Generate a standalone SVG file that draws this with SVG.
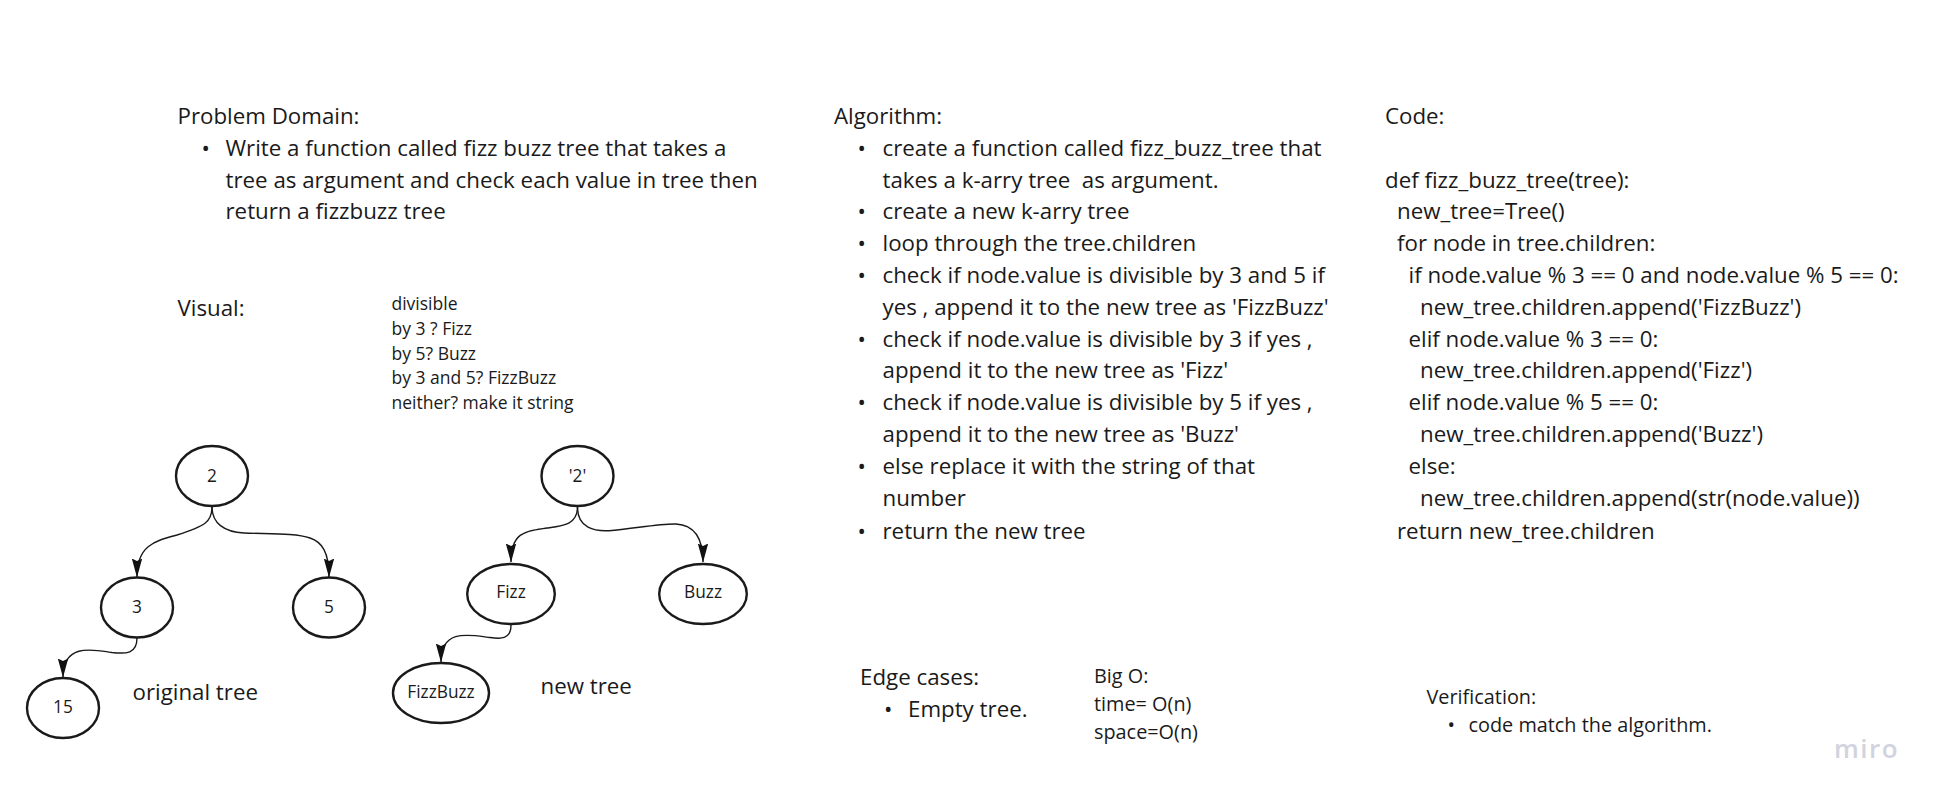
<svg xmlns="http://www.w3.org/2000/svg" width="1941" height="804" viewBox="0 0 1941 804">
<style>
text{font-family:"Open Sans","Noto Sans",sans-serif;fill:#1a1a1a;white-space:pre}
.b{font-size:22.3px}
.s{font-size:19.85px}
.d{font-size:17.5px}
.n{font-size:17.3px;text-anchor:middle}
.node{fill:#fff;stroke:#1a1a1a;stroke-width:2.4}
.edge{fill:none;stroke:#1a1a1a;stroke-width:1.4;marker-end:url(#arrow)}
</style>
<defs>
<marker id="arrow" markerUnits="userSpaceOnUse" markerWidth="24" markerHeight="24" refX="18.5" refY="6" orient="auto">
<path d="M0 0.8L19 6L0 11.2L2.5 6Z" fill="#111"/>
</marker>
</defs>
<rect width="1941" height="804" fill="#fff"/>
<g id="problem-domain" class="b">
<text x="177.5" y="123.5">Problem Domain:</text>
<text x="201.5" y="155.5">•</text>
<text x="225.5" y="155.5">Write a function called fizz buzz tree that takes a</text>
<text x="225.5" y="187.5">tree as argument and check each value in tree then</text>
<text x="225.5" y="219">return a fizzbuzz tree</text>
</g>
<g id="visual" class="b"><text x="177.5" y="315.5">Visual:</text></g>
<g id="rules" class="d">
<text x="391.5" y="310">divisible</text>
<text x="391.5" y="334.5">by 3 ? Fizz</text>
<text x="391.5" y="359.5">by 5? Buzz</text>
<text x="391.5" y="384">by 3 and 5? FizzBuzz</text>
<text x="391.5" y="408.5">neither? make it string</text>
</g>
<g id="connectors">
<path class="edge" d="M212 507C212 522 205 526 177 535C155 541 137 545 137 577"/>
<path class="edge" d="M212 507C212 523 224 532 244 533C270 534 296 533 310 538C322 542 329 552 329 577"/>
<path class="edge" d="M137 638C137 654 126 654 112 652.500C95 650 63 642 63 677"/>
<path class="edge" d="M577.5 507C577.5 525 562 526 547 528C527 531 511 531 511 562"/>
<path class="edge" d="M577.5 507C577.5 528 594 532 612 530.500C635 528.500 660 523.500 676 524C695 525 703 538 703 562"/>
<path class="edge" d="M511 625C511 640 500 639 490 637.500C470 635 441 628 441 662"/>
</g>
<g id="node-2"><ellipse class="node" cx="212" cy="476" rx="36" ry="30"/><text class="n" x="212" y="481.5">2</text></g>
<g id="node-3"><ellipse class="node" cx="137" cy="607.5" rx="36" ry="30"/><text class="n" x="137" y="612.5">3</text></g>
<g id="node-5"><ellipse class="node" cx="329" cy="607.5" rx="36" ry="30"/><text class="n" x="329" y="612.5">5</text></g>
<g id="node-15"><ellipse class="node" cx="63" cy="708" rx="36" ry="30"/><text class="n" x="63" y="712.5">15</text></g>
<g id="node-str2"><ellipse class="node" cx="577.5" cy="476" rx="36" ry="30"/><text class="n" x="577.5" y="481.5">'2'</text></g>
<g id="node-fizz"><ellipse class="node" cx="511" cy="594" rx="43.800" ry="30"/><text class="n" x="511" y="598">Fizz</text></g>
<g id="node-buzz"><ellipse class="node" cx="703" cy="594" rx="43.800" ry="30"/><text class="n" x="703" y="598">Buzz</text></g>
<g id="node-fizzbuzz"><ellipse class="node" cx="441" cy="693" rx="48" ry="30"/><text class="n" x="441" y="698">FizzBuzz</text></g>
<g id="tree-labels" class="b">
<text x="132.5" y="700">original tree</text>
<text x="540.5" y="694">new tree</text>
</g>
<g id="algorithm" class="b">
<text x="834" y="123.5">Algorithm:</text>
<text x="857.5" y="155.5">•</text><text x="882.5" y="155.5">create a function called fizz_buzz_tree that</text>
<text x="882.5" y="187.5">takes a k-arry tree  as argument.</text>
<text x="857.5" y="219">•</text><text x="882.5" y="219">create a new k-arry tree</text>
<text x="857.5" y="250.5">•</text><text x="882.5" y="250.5">loop through the tree.children</text>
<text x="857.5" y="282.5">•</text><text x="882.5" y="282.5">check if node.value is divisible by 3 and 5 if</text>
<text x="882.5" y="314.5">yes , append it to the new tree as 'FizzBuzz'</text>
<text x="857.5" y="346.5">•</text><text x="882.5" y="346.5">check if node.value is divisible by 3 if yes ,</text>
<text x="882.5" y="378">append it to the new tree as 'Fizz'</text>
<text x="857.5" y="410">•</text><text x="882.5" y="410">check if node.value is divisible by 5 if yes ,</text>
<text x="882.5" y="442">append it to the new tree as 'Buzz'</text>
<text x="857.5" y="474">•</text><text x="882.5" y="474">else replace it with the string of that</text>
<text x="882.5" y="506">number</text>
<text x="857.5" y="538.5">•</text><text x="882.5" y="538.5">return the new tree</text>
</g>
<g id="code" class="b">
<text x="1385" y="123.5">Code:</text>
<text x="1385" y="187.5">def fizz_buzz_tree(tree):</text>
<text x="1397" y="219">new_tree=Tree()</text>
<text x="1397" y="250.5">for node in tree.children:</text>
<text x="1408.5" y="282.5">if node.value % 3 == 0 and node.value % 5 == 0:</text>
<text x="1420" y="314.5">new_tree.children.append('FizzBuzz')</text>
<text x="1408.5" y="346.5">elif node.value % 3 == 0:</text>
<text x="1420" y="378">new_tree.children.append('Fizz')</text>
<text x="1408.5" y="410">elif node.value % 5 == 0:</text>
<text x="1420" y="442">new_tree.children.append('Buzz')</text>
<text x="1408.5" y="474">else:</text>
<text x="1420" y="506">new_tree.children.append(str(node.value))</text>
<text x="1397" y="538.5">return new_tree.children</text>
</g>
<g id="edge-cases" class="b">
<text x="860" y="685">Edge cases:</text>
<text x="884" y="717">•</text><text x="908" y="717">Empty tree.</text>
</g>
<g id="big-o" class="s">
<text x="1094" y="682.500">Big O:</text>
<text x="1094" y="711">time= O(n)</text>
<text x="1094" y="739">space=O(n)</text>
</g>
<g id="verification" class="s">
<text x="1426.5" y="704">Verification:</text>
<text x="1447.5" y="732">•</text><text x="1468.5" y="732">code match the algorithm.</text>
</g>
<g id="watermark"><text x="1834" y="757.500" style="font-family:'Open Sans',sans-serif;font-size:26px;font-weight:600;fill:#d2d3de;letter-spacing:1.5px">miro</text></g>
</svg>
